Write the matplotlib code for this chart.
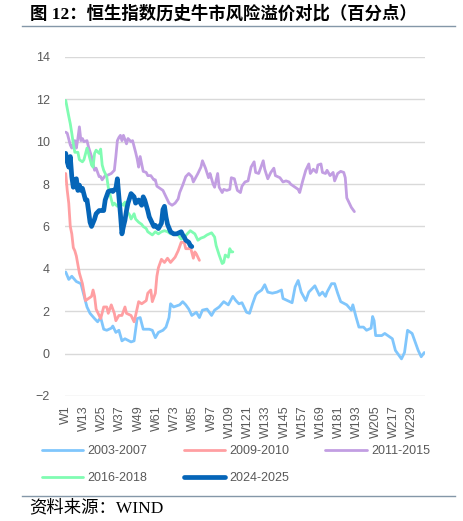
import numpy as np
import matplotlib.pyplot as plt
from matplotlib.lines import Line2D

# weekly risk premium (pct points); x = week number
w0307 = [1, 3, 5, 8, 11, 13, 15, 17, 20, 22, 24, 26, 28, 31, 32, 34, 36, 38, 40, 44, 46, 48, 50, 52, 56, 58, 60, 62,
         65, 67, 69, 70, 72, 76, 78, 80, 82, 84, 87, 89, 91, 94, 97, 99, 102, 105, 108, 111, 113, 115, 117, 120, 122,
         124, 126, 127, 130, 132, 134, 137, 140, 143, 144, 147, 150, 152, 154, 156, 159, 161, 165, 168, 170, 172, 173,
         176, 178, 180, 182, 186, 189, 190, 192, 194, 197, 199, 202, 203, 204, 205, 209, 211, 213, 216, 218, 222, 224,
         226, 229, 233, 235, 237]
v0307 = [3.85, 3.5, 3.65, 3.4, 3.3, 2.75, 2.2, 1.9, 1.65, 1.5, 1.7, 1.15, 1.1, 1.2, 1.3, 1.0, 1.1, 0.6, 0.7, 0.55, 0.6,
         1.65, 1.7, 1.15, 1.15, 1.1, 0.75, 1.0, 1.1, 1.25, 1.7, 2.35, 2.2, 2.3, 2.45, 2.3, 2.1, 1.8, 1.95, 1.7, 2.05,
         2.1, 1.8, 2.05, 2.2, 2.45, 2.3, 2.7, 2.5, 2.35, 2.4, 1.95, 1.9, 2.35, 2.75, 2.85, 3.0, 3.25, 2.9, 2.85, 2.9,
         3.0, 2.6, 2.5, 2.4, 3.15, 3.45, 2.9, 2.5, 2.9, 3.2, 2.75, 2.9, 2.7, 2.9, 3.3, 3.3, 2.85, 2.45, 2.3, 2.05,
         2.3, 1.75, 1.25, 1.25, 1.1, 1.2, 1.75, 1.55, 0.85, 0.85, 0.95, 0.85, 0.7, 0.15, -0.25, 0.05, 1.1, 0.95,
         0.15, -0.15, 0.05]

w0910 = [1, 2, 3, 4, 5, 6, 7, 8, 9, 10, 11, 12, 14, 16, 18, 19, 20, 21, 23, 24, 26, 28, 29, 31, 33, 34, 36, 38, 40,
         41, 44, 46, 47, 49, 51, 54, 55, 57, 58, 60, 61, 62, 64, 66, 68, 70, 73, 75, 77, 79, 80, 82, 83, 85, 86, 87, 89]
v0910 = [8.5, 7.7, 7.1, 6.0, 5.65, 5.0, 4.85, 4.6, 4.2, 3.8, 3.55, 3.3, 2.5, 2.6, 2.7, 3.0, 2.7, 2.1, 1.8, 1.65, 2.2,
         2.2, 1.9, 2.3, 1.9, 1.55, 1.8, 1.8, 2.2, 1.9, 1.8, 1.5, 1.8, 2.45, 2.35, 2.5, 2.85, 3.0, 2.45, 2.85, 3.65,
         4.05, 4.45, 4.3, 4.5, 4.3, 4.55, 4.85, 5.25, 5.25, 4.95, 4.95, 5.05, 4.5, 4.8, 4.7, 4.4]

w1115 = [1, 2, 4, 5, 6, 7, 8, 9, 10, 11, 12, 13, 15, 16, 18, 19, 20, 21, 23, 24, 25, 27, 28, 31, 33, 34, 35, 36, 37,
         38, 39, 41, 42, 44, 45, 47, 48, 49, 50, 52, 54, 55, 57, 59, 60, 61, 63, 65, 66, 67, 69, 71, 73, 75, 76, 78,
         80, 82, 84, 85, 88, 90, 91, 93, 95, 96, 98, 99, 101, 102, 104, 105, 107, 109, 110, 112, 114, 116, 117, 119,
         121, 123, 125, 126, 128, 131, 132, 134, 136, 138, 139, 142, 144, 146, 148, 149, 151, 154, 155, 157, 159,
         161, 162, 164, 166, 167, 169, 170, 172, 173, 175, 177, 178, 180, 182, 184, 185, 186, 188, 189, 191]
v1115 = [10.45, 10.4, 9.85, 9.7, 9.9, 10.05, 9.7, 10.15, 10.7, 10.05, 10.15, 10.0, 10.05, 9.75, 9.3, 8.95, 8.65, 8.75,
         8.35, 8.35, 8.2, 8.4, 8.4, 8.5, 8.65, 9.3, 10.05, 10.2, 10.3, 10.05, 10.3, 9.9, 10.15, 10.0, 10.05, 9.5, 9.2,
         8.8, 9.3, 8.6, 8.55, 8.4, 8.4, 8.2, 8.2, 7.9, 7.8, 7.7, 7.55, 7.4, 7.1, 7.0, 7.1, 7.3, 7.6, 7.95, 8.35, 8.5,
         8.35, 8.1, 8.5, 8.8, 9.1, 8.75, 8.3, 8.5, 8.0, 7.85, 8.5, 7.85, 7.6, 7.75, 7.7, 7.75, 8.3, 8.25, 7.7, 7.6,
         7.9, 8.1, 8.15, 8.8, 9.05, 8.55, 8.5, 9.1, 8.7, 8.25, 8.55, 8.75, 8.4, 8.3, 8.1, 8.15, 8.1, 8.0, 7.9, 7.75,
         7.6, 8.15, 8.65, 8.95, 8.5, 8.7, 8.55, 8.9, 8.95, 8.55, 8.5, 8.65, 8.4, 8.55, 8.15, 8.5, 8.6, 8.55, 8.3,
         7.35, 7.05, 6.9, 6.7]

w1618 = [1, 3, 4, 5, 6, 7, 9, 10, 12, 13, 15, 16, 18, 19, 20, 21, 23, 24, 25, 26, 28, 29, 30, 32, 33, 35, 37, 39, 40,
         41, 43, 44, 46, 47, 49, 51, 52, 54, 55, 58, 60, 62, 64, 66, 68, 70, 72, 75, 77, 79, 81, 83, 86, 88, 90, 92,
         94, 97, 99, 100, 102, 104, 105, 106, 108, 109, 110, 111]
v1618 = [11.95, 11.2, 10.85, 10.4, 9.9, 9.5, 9.5, 9.15, 9.05, 9.15, 9.7, 9.45, 8.9, 8.8, 9.45, 9.6, 9.45, 9.65, 8.9,
         8.65, 8.35, 7.85, 7.55, 7.0, 7.1, 6.95, 7.1, 7.0, 7.15, 6.75, 6.55, 6.35, 6.6, 6.35, 6.2, 6.1, 6.0, 5.9, 5.75,
         5.6, 5.75, 5.65, 5.75, 5.8, 5.75, 5.65, 5.7, 5.6, 5.4, 5.5, 5.65, 5.8, 5.65, 5.35, 5.45, 5.5, 5.6, 5.7, 5.5,
         5.1, 4.65, 4.25, 4.3, 4.65, 4.55, 4.95, 4.8, 4.8]

w2425 = [1, 2, 3, 4, 5, 6, 7, 8, 9, 10, 11, 12, 14, 15, 16, 17, 18, 20, 21, 23, 25, 26, 27, 29, 31, 32, 34, 35, 36,
         37, 38, 39, 40, 41, 42, 44, 46, 47, 49, 51, 52, 53, 55, 56, 57, 59, 60, 62, 64, 65, 66, 67, 68, 70, 72, 74,
         77, 78, 79, 80, 82, 83, 84]
v2425 = [9.45, 9.05, 8.8, 9.3, 8.35, 7.85, 8.2, 8.25, 7.7, 7.95, 7.7, 7.8, 7.25, 7.25, 6.75, 6.2, 6.0, 6.35, 6.6,
         6.75, 6.75, 6.75, 7.25, 7.65, 7.7, 7.65, 7.8, 8.25, 7.4, 6.6, 5.65, 6.0, 6.3, 6.75, 7.1, 7.55, 7.4, 7.1, 7.25,
         7.0, 7.4, 7.25, 6.75, 6.45, 6.3, 6.0, 6.05, 5.9, 6.15, 6.8, 6.95, 6.45, 6.1, 5.75, 5.65, 5.65, 5.75, 5.6, 5.5,
         5.35, 5.25, 5.1, 5.05]

n_weeks = 237
tick_weeks = list(range(1, n_weeks + 1, 12))
tick_labels = ['W%d' % w for w in tick_weeks]

series = [
    ('2003-2007', w0307, v0307, '#80C6FC', 2.0),
    ('2009-2010', w0910, v0910, '#FF9FA2', 2.0),
    ('2011-2015', w1115, v1115, '#C29EE2', 2.0),
    ('2016-2018', w1618, v1618, '#80FCB2', 2.0),
    ('2024-2025', w2425, v2425, '#0565B8', 3.4),
]

gray = '#595959'
fig = plt.figure(figsize=(4.64, 5.21), dpi=100)
ax = fig.add_axes([0.140, 0.240, 0.776, 0.6507])

lines = []
for name, w, v, c, lw in series:
    ln, = ax.plot(w, v, color=c, lw=lw, solid_joinstyle='round', solid_capstyle='round', label=name)
    lines.append(ln)

ax.set_xlim(0.5, n_weeks + 0.5)
ax.set_ylim(-2, 14)
ax.set_yticks(np.arange(-2, 15, 2))
ax.set_xticks(tick_weeks)
ax.set_xticklabels(tick_labels, rotation=90)
ax.grid(axis='y', color='#D9D9D9', lw=1)
ax.set_axisbelow(True)
for s in ax.spines.values():
    s.set_visible(False)
ax.tick_params(axis='y', length=0, pad=11, labelsize=9, labelcolor=gray)
ax.tick_params(axis='x', length=0, pad=7, labelsize=9, labelcolor=gray)
for t in ax.get_xticklabels() + ax.get_yticklabels():
    t.set_fontfamily('Liberation Sans')

# legend filled row by row: reorder for column-major layout
order = [0, 3, 1, 4, 2]
leg = fig.legend([lines[i] for i in order], [series[i][0] for i in order], ncol=3,
                 loc='upper left', bbox_to_anchor=(0.09, 0.145), frameon=False,
                 handlelength=3.3, columnspacing=2.9, handletextpad=0.35, labelspacing=1.2,
                 borderpad=0, borderaxespad=0, prop={'family': 'Liberation Sans', 'size': 9})
for t in leg.get_texts():
    t.set_color(gray)

fig.text(0.065, 0.973, '图 12：恒生指数历史牛市风险溢价对比（百分点）', ha='left', va='center',
         fontsize=12.5, fontweight='bold', family=['Liberation Serif', 'Noto Sans CJK SC'])
fig.add_artist(Line2D([0.047, 0.981], [0.950, 0.950], color='#8497A8', lw=1))
fig.add_artist(Line2D([0.047, 0.981], [0.048, 0.048], color='#8497A8', lw=1))
fig.text(0.062, 0.025, '资料来源：WIND', ha='left', va='center', fontsize=12.5,
         family=['Liberation Serif', 'Noto Sans CJK SC'])

fig.savefig('out.png', dpi=100)
